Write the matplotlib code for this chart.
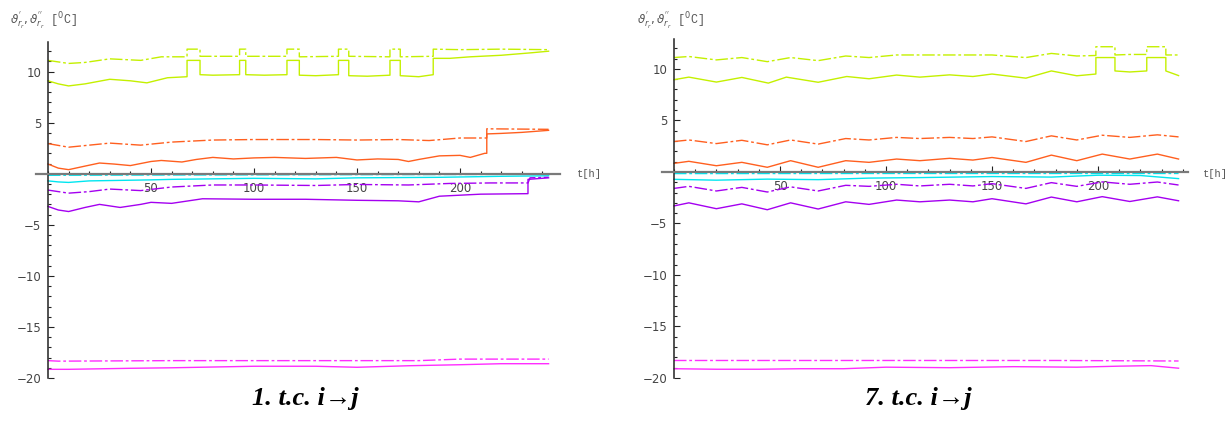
import numpy as np
import matplotlib
matplotlib.use("Agg")
import matplotlib.pyplot as plt
from matplotlib.ticker import MultipleLocator

# ---- panel 1: "1. t.c. i->j" ----
g1s_t = [0, 5, 10, 18, 30, 40, 48, 58, 67.5, 67.5, 73.8, 73.8, 80, 93, 93, 96, 96, 105, 116, 116, 122, 122,
         130, 141, 141, 146, 146, 155, 166, 166, 171, 171, 180, 187, 187, 195, 205, 220, 235, 243]
g1s_v = [9.1, 8.8, 8.6, 8.8, 9.25, 9.1, 8.9, 9.4, 9.5, 11.1, 11.1, 9.7, 9.65, 9.7, 11.1, 11.1, 9.7, 9.65, 9.7, 11.1, 11.1, 9.65,
         9.6, 9.7, 11.1, 11.1, 9.6, 9.55, 9.65, 11.1, 11.1, 9.6, 9.5, 9.7, 11.3, 11.3, 11.45, 11.6, 11.85, 12.0]
g1d_t = [0, 10, 18, 30, 45, 55, 67.5, 67.5, 73.8, 73.8, 93, 93, 96, 96, 116, 116, 122, 122, 141, 141, 146, 146,
         166, 166, 171, 171, 187, 187, 200, 220, 243]
g1d_v = [11.1, 10.8, 10.9, 11.25, 11.1, 11.45, 11.45, 12.2, 12.2, 11.5, 11.5, 12.2, 12.2, 11.5, 11.5, 12.2, 12.2, 11.45, 11.5, 12.2, 12.2, 11.5,
         11.45, 12.2, 12.2, 11.45, 11.5, 12.2, 12.15, 12.2, 12.15]
o1s_t = [0, 5, 10, 18, 25, 32, 40, 50, 55, 65, 72, 80, 90, 100, 110, 125, 140, 150, 160, 170, 175, 180, 190, 200, 205, 212, 213, 213, 220, 230, 243]
o1s_v = [0.95, 0.55, 0.4, 0.75, 1.05, 0.95, 0.8, 1.2, 1.3, 1.15, 1.4, 1.6, 1.45, 1.55, 1.6, 1.5, 1.6, 1.35, 1.45, 1.4, 1.2, 1.4, 1.75, 1.8, 1.6, 2.0, 2.0, 3.9, 3.95, 4.05, 4.25]
o1d_t = [0, 10, 20, 30, 45, 60, 80, 100, 130, 150, 170, 185, 200, 212, 213, 213, 243]
o1d_v = [2.95, 2.6, 2.8, 3.0, 2.8, 3.1, 3.3, 3.35, 3.35, 3.3, 3.35, 3.25, 3.5, 3.5, 3.5, 4.4, 4.35]
c1d_t = [0, 60, 120, 180, 243]
c1d_v = [-0.15, -0.12, -0.1, -0.08, -0.05]
c1s_t = [0, 5, 10, 20, 35, 50, 60, 80, 100, 130, 150, 190, 220, 243]
c1s_v = [-0.7, -0.8, -0.85, -0.7, -0.65, -0.6, -0.55, -0.5, -0.45, -0.5, -0.4, -0.35, -0.25, -0.2]
p1d_t = [0, 10, 20, 30, 45, 60, 80, 100, 130, 150, 175, 195, 215, 233, 234, 243]
p1d_v = [-1.6, -1.9, -1.75, -1.5, -1.65, -1.3, -1.1, -1.1, -1.15, -1.05, -1.1, -0.95, -0.9, -0.9, -0.4, -0.35]
p1s_t = [0, 5, 10, 18, 25, 35, 45, 50, 60, 75, 100, 125, 150, 170, 180, 190, 210, 233, 233, 243]
p1s_v = [-3.2, -3.55, -3.7, -3.3, -3.0, -3.3, -3.0, -2.8, -2.9, -2.45, -2.5, -2.5, -2.6, -2.65, -2.75, -2.2, -2.0, -1.95, -0.55, -0.4]
m1d_t = [0, 5, 60, 120, 180, 200, 243]
m1d_v = [-18.3, -18.35, -18.3, -18.3, -18.3, -18.15, -18.15]
m1s_t = [0, 10, 40, 60, 100, 130, 150, 175, 200, 220, 243]
m1s_v = [-19.15, -19.15, -19.05, -19.0, -18.85, -18.85, -18.95, -18.8, -18.7, -18.6, -18.6]

# ---- panel 7: "7. t.c. i->j" ----
g7s_t = [0, 7, 20, 32, 44.5, 53, 68, 81.5, 92, 105, 116, 130, 141, 150, 166, 178, 190, 199, 199, 208, 208, 215, 223, 223, 232, 232, 238]
g7s_v = [8.95, 9.2, 8.72, 9.17, 8.62, 9.2, 8.7, 9.26, 9.04, 9.4, 9.2, 9.42, 9.26, 9.5, 9.1, 9.8, 9.33, 9.5, 11.1, 11.1, 9.8, 9.7, 9.8, 11.1, 11.1, 9.8, 9.35]
g7d_t = [0, 7, 20, 32, 44, 55, 68, 81, 92, 105, 130, 150, 166, 178, 190, 199, 199, 208, 208, 215, 223, 223, 232, 232, 238]
g7d_v = [11.1, 11.2, 10.87, 11.1, 10.7, 11.1, 10.8, 11.25, 11.1, 11.35, 11.35, 11.35, 11.1, 11.5, 11.25, 11.3, 12.15, 12.15, 11.35, 11.4, 11.4, 12.15, 12.15, 11.35, 11.35]
w7_t = [0, 7, 20, 32, 44, 55, 68, 81, 92, 105, 116, 130, 141, 150, 166, 178, 190, 202, 215, 228, 238]
o7d_v = [2.95, 3.1, 2.75, 3.07, 2.63, 3.1, 2.7, 3.24, 3.1, 3.35, 3.24, 3.35, 3.24, 3.4, 2.95, 3.5, 3.1, 3.56, 3.35, 3.6, 3.4]
o7s_v = [0.83, 1.03, 0.6, 0.93, 0.45, 1.09, 0.45, 1.09, 0.93, 1.25, 1.09, 1.32, 1.15, 1.4, 0.93, 1.63, 1.09, 1.73, 1.25, 1.73, 1.25]
p7d_v = [-1.6, -1.4, -1.85, -1.5, -1.95, -1.45, -1.85, -1.3, -1.4, -1.2, -1.36, -1.2, -1.36, -1.14, -1.6, -1.04, -1.4, -0.97, -1.2, -0.98, -1.27]
p7s_v = [-3.3, -3.0, -3.57, -3.1, -3.67, -3.0, -3.6, -2.9, -3.15, -2.73, -2.9, -2.73, -2.9, -2.6, -3.1, -2.44, -2.9, -2.4, -2.87, -2.42, -2.8]
c7d_t = [0, 100, 238]
c7d_v = [-0.16, -0.15, -0.15]
c7s_t = [0, 20, 44, 68, 92, 116, 150, 178, 200, 220, 238]
c7s_v = [-0.72, -0.8, -0.7, -0.75, -0.6, -0.55, -0.45, -0.5, -0.32, -0.35, -0.65]
m7d_t = [0, 60, 120, 180, 238]
m7d_v = [-18.3, -18.3, -18.3, -18.3, -18.35]
m7s_t = [0, 20, 40, 60, 80, 100, 130, 160, 190, 210, 225, 238]
m7s_v = [-19.1, -19.15, -19.15, -19.1, -19.1, -18.95, -19.0, -18.9, -18.95, -18.85, -18.8, -19.05]

captions = ["1. t.c. i\u2192j", "7. t.c. i\u2192j"]

GREEN = "#c4f000"
ORANGE = "#ff5f1f"
CYAN = "#00e6f0"
PURPLE = "#a400f0"
MAGENTA = "#ff2cff"
DASHDOT = (0, (9, 2, 2, 2))

W, H = 1229, 421
fig = plt.figure(figsize=(W / 100, H / 100), dpi=100)


def make_axes(x0px, pxu, xmin, xmax, y_top_px, y_bot_px):
    left = x0px + xmin * pxu
    width = (xmax - xmin) * pxu
    ax = fig.add_axes([left / W, (H - y_bot_px) / H, width / W, (y_bot_px - y_top_px) / H])
    ax.set_xlim(xmin, xmax)
    ax.set_ylim(-20, 12.9)
    for s in ["top", "right"]:
        ax.spines[s].set_visible(False)
    ax.spines["left"].set_position(("data", 0))
    ax.spines["bottom"].set_position(("data", 0))
    ax.spines["left"].set_color("#222222")
    ax.spines["left"].set_linewidth(1.1)
    ax.spines["bottom"].set_color("#7a7a7a")
    ax.spines["bottom"].set_linewidth(1.6)
    ax.xaxis.set_major_locator(MultipleLocator(50))
    ax.xaxis.set_minor_locator(MultipleLocator(10))
    ax.yaxis.set_major_locator(MultipleLocator(5))
    ax.yaxis.set_minor_locator(MultipleLocator(1))
    ax.tick_params(axis="both", which="both", direction="in", colors="#222222",
                   labelcolor="#444444", labelsize=8.5)
    ax.tick_params(axis="both", which="major", length=4, width=0.8)
    ax.tick_params(axis="both", which="minor", length=2.5, width=0.8)
    ax.tick_params(axis="x", pad=6)
    ax.tick_params(axis="y", pad=5)
    ax.set_xticks([t for t in ax.get_xticks() if 0 < t <= xmax])
    ax.set_yticks([v for v in range(-20, 13, 5) if v != 0])
    ax.set_facecolor("none")
    return ax


def draw(ax, series):
    for t, v, c, ls in series:
        ax.plot(t, v, color=c, linestyle=ls, linewidth=1.0)


ax1 = make_axes(48, 2.06, -6, 248.5, 42, 378)
draw(ax1, [
    (g1s_t, g1s_v, GREEN, "-"), (g1d_t, g1d_v, GREEN, DASHDOT),
    (o1s_t, o1s_v, ORANGE, "-"), (o1d_t, o1d_v, ORANGE, DASHDOT),
    (c1s_t, c1s_v, CYAN, "-"), (c1d_t, c1d_v, CYAN, DASHDOT),
    (p1s_t, p1s_v, PURPLE, "-"), (p1d_t, p1d_v, PURPLE, DASHDOT),
    (m1s_t, m1s_v, MAGENTA, "-"), (m1d_t, m1d_v, MAGENTA, DASHDOT),
])

ax7 = make_axes(674, 2.12, -5.7, 242.5, 39, 378)
draw(ax7, [
    (g7s_t, g7s_v, GREEN, "-"), (g7d_t, g7d_v, GREEN, DASHDOT),
    (w7_t, o7s_v, ORANGE, "-"), (w7_t, o7d_v, ORANGE, DASHDOT),
    (c7s_t, c7s_v, CYAN, "-"), (c7d_t, c7d_v, CYAN, DASHDOT),
    (w7_t, p7s_v, PURPLE, "-"), (w7_t, p7d_v, PURPLE, DASHDOT),
    (m7s_t, m7s_v, MAGENTA, "-"), (m7d_t, m7d_v, MAGENTA, DASHDOT),
])

ylab = r"$\vartheta^{'}_{r_r},\vartheta^{''}_{r_r}$" + " [$^0$C]"
for ax, xl, xt, cap, xc in [(ax1, 10, 577, captions[0], 305), (ax7, 637, 1203, captions[1], 918)]:
    fig.text(xl / W, 1 - 20 / H, ylab, fontsize=8.5, color="#555555", va="center", ha="left",
             family="Liberation Mono")
    fig.text(xt / W, 1 - 174 / H, "t[h]", fontsize=7.5, color="#555555", va="center", ha="left",
             family="Liberation Mono")
    fig.text(xc / W, 1 - 398 / H, cap, fontsize=19, fontweight="bold", fontstyle="italic",
             family="Liberation Serif", ha="center", va="center")

fig.savefig("out.png", dpi=100)
